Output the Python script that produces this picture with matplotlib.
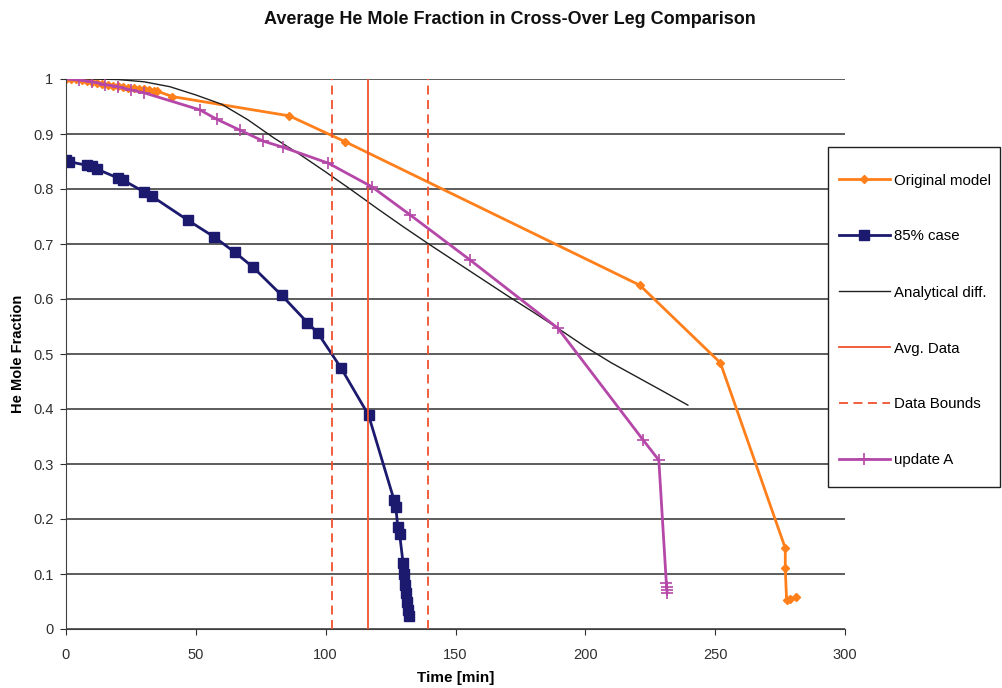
#!/usr/bin/env python3
"""He mole fraction in the cross-over leg: model runs vs. averaged data."""

import matplotlib

matplotlib.use("Agg")
import matplotlib.pyplot as plt
from matplotlib.patches import Rectangle

plt.rcParams["font.family"] = ["Liberation Sans", "DejaVu Sans"]

# Original model
orig_t = [0, 2, 4, 6, 8, 10, 12, 14, 16, 18, 20, 22, 24, 26, 28, 30, 32, 34, 35,
          41, 86, 107.5, 221, 252, 277, 277, 277.5, 279, 281]
orig_y = [1.0, 1.0, 1.0, 0.998, 0.997, 0.995, 0.993, 0.991, 0.99, 0.988, 0.987,
          0.985, 0.984, 0.983, 0.982, 0.981, 0.98, 0.979, 0.978,
          0.968, 0.933, 0.886, 0.625, 0.484, 0.147, 0.111, 0.053, 0.054, 0.058]

# 85% case
case85_t = [0, 1, 8, 10, 12, 20, 22, 30, 33, 47, 57, 65, 72, 83, 93, 97, 106,
            116.5, 126.3, 127, 127.8, 128.5, 129.8, 130.2, 130.6, 131, 131.3,
            131.6, 132.1]
case85_y = [0.852, 0.85, 0.843, 0.842, 0.836, 0.82, 0.816, 0.795, 0.787, 0.743,
            0.713, 0.685, 0.658, 0.607, 0.557, 0.538, 0.474, 0.389, 0.235,
            0.222, 0.185, 0.172, 0.12, 0.1, 0.08, 0.065, 0.05, 0.035, 0.024]

# Analytical diffusion solution
anal_t = [0, 10, 20, 30, 40, 50, 60, 70, 80, 90, 100, 110, 120, 130, 140, 150,
          160, 170, 180, 190, 200, 210, 220, 230, 239.5]
anal_y = [1.0, 1.0, 0.999, 0.995, 0.986, 0.971, 0.954, 0.926, 0.893, 0.863,
          0.831, 0.798, 0.764, 0.731, 0.699, 0.668, 0.637, 0.606, 0.576,
          0.545, 0.513, 0.484, 0.458, 0.432, 0.407]

# update A
updA_t = [0, 5, 10, 15, 20, 25, 30, 51.5, 58, 67, 76, 83.5, 101, 117.8, 132.5,
          155.6, 189.4, 222.2, 228.3, 231.2, 231.3, 231.4, 231.5]
updA_y = [1.0, 0.998, 0.995, 0.99, 0.986, 0.98, 0.975, 0.944, 0.927, 0.907,
          0.887, 0.876, 0.847, 0.804, 0.753, 0.671, 0.547, 0.344, 0.307,
          0.083, 0.077, 0.071, 0.066]

# Measured data: average and bounds
avg_time = 116.4
bounds_time = [102.5, 139.5]

W, H = 1002, 688
fig = plt.figure(figsize=(W / 100, H / 100), dpi=100)
ax = fig.add_axes([66 / W, 1 - 629 / H, (845 - 66) / W, (629 - 79) / H])

ax.set_xlim(0, 300)
ax.set_ylim(0, 1)
ax.set_xticks(range(0, 301, 50))
ax.set_yticks([i / 10 for i in range(11)])
ax.set_yticklabels(["0", "0.1", "0.2", "0.3", "0.4", "0.5", "0.6", "0.7", "0.8", "0.9", "1"])
ax.yaxis.grid(True, color="#303030", linewidth=1.1)
ax.set_axisbelow(True)
for side in ("top", "right"):
    ax.spines[side].set_visible(False)
for side in ("left", "bottom"):
    ax.spines[side].set_color("#404040")
ax.tick_params(direction="out", length=4, labelsize=10.5, colors="#303030")
ax.tick_params(axis="x", pad=10)
ax.tick_params(axis="y", pad=5)

ax.plot(orig_t, orig_y, color="#FF7F1A", lw=2, marker="D", ms=4, label="Original model")
ax.plot(case85_t, case85_y, color="#1C1A6E", lw=2, marker="s", ms=7, label="85% case")
ax.plot(anal_t, anal_y, color="#202020", lw=1, label="Analytical diff.")
ax.axvline(avg_time, color="#F0522E", lw=1.3, label="Avg. Data")
for i, bt in enumerate(bounds_time):
    ax.axvline(bt, color="#F0522E", lw=1.3, ls=(0, (5, 3)),
               label="Data Bounds" if i == 0 else None)
ax.plot(updA_t, updA_y, color="#B547A8", lw=2, marker="+", ms=8, mew=1.2, label="update A")

fig.text(510 / W, 1 - 19 / H, "Average He Mole Fraction in Cross-Over Leg Comparison",
         fontsize=13, fontweight="bold", ha="center", va="center", color="#101010")
ax.set_xlabel("Time [min]", fontsize=11, fontweight="bold", labelpad=6)
ax.set_ylabel("He Mole Fraction", fontsize=10.5, fontweight="bold", labelpad=6)

# legend box drawn separately so the entries can sit where the reference has them
fig.patches.append(Rectangle((828 / W, 1 - 487 / H), (1000 - 828) / W, (487 - 147) / H,
                             transform=fig.transFigure, fill=True, facecolor="white",
                             edgecolor="#202020", linewidth=1.0, zorder=5))
leg = fig.legend(loc="upper left", bbox_to_anchor=(828 / W, 1 - 163 / H),
                 frameon=False, fontsize=10.8, labelspacing=2.8, borderaxespad=0,
                 handlelength=3.4, handletextpad=0.3, borderpad=0.7)
leg.set_zorder(6)

fig.savefig("out.png", dpi=100)
